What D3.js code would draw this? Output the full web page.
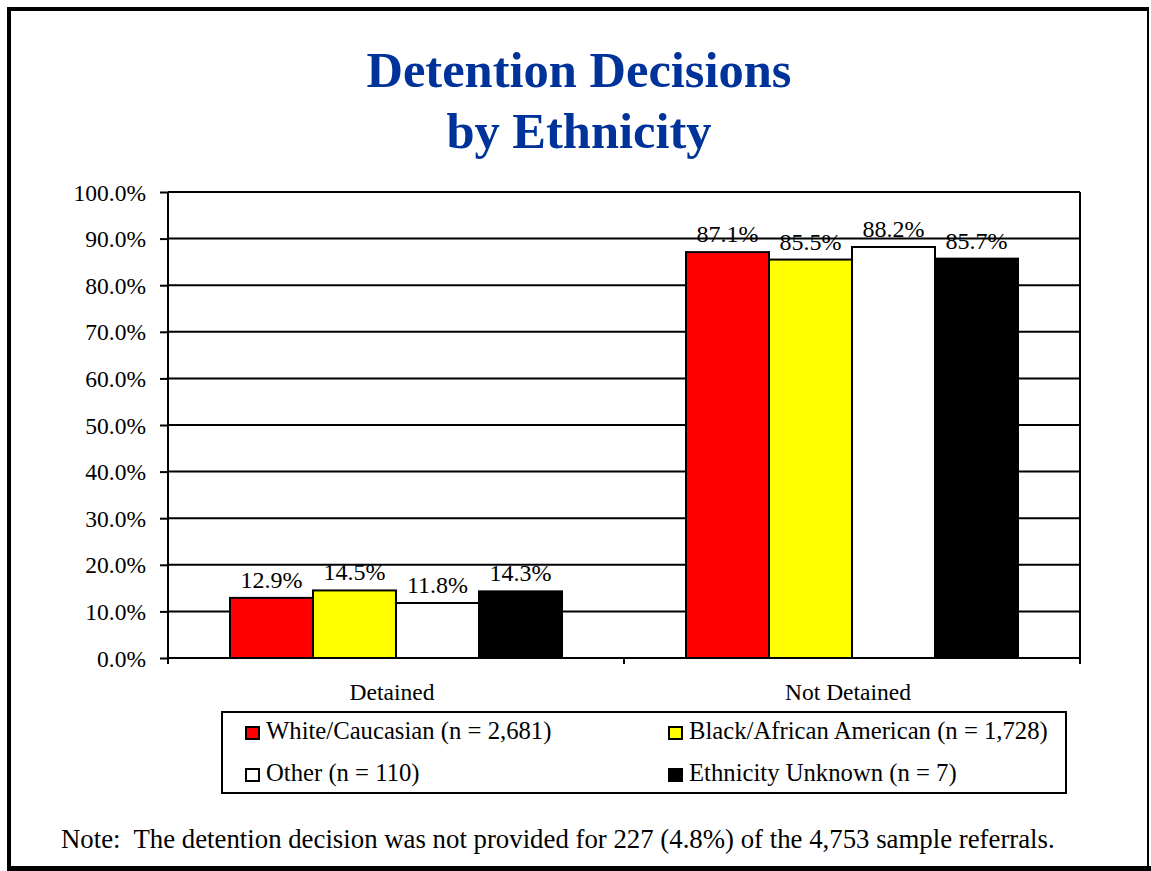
<!DOCTYPE html>
<html>
<head>
<meta charset="utf-8">
<script src="https://cdn.jsdelivr.net/npm/d3@7"></script>
<style>
  html, body { margin: 0; padding: 0; background: #fff; }
  svg { display: block; }
  text { font-family: "Liberation Serif", "Times New Roman", serif; fill: #000; white-space: pre; }
</style>
</head>
<body>
<script>
// ---- data ----
const categories = ["Detained", "Not Detained"];
const seriesNames = ["White/Caucasian (n = 2,681)", "Black/African American (n = 1,728)", "Other (n = 110)", "Ethnicity Unknown (n = 7)"];
const seriesColors = ["#ff0000", "#ffff00", "#ffffff", "#000000"];
const white = [12.9, 87.1];
const black = [14.5, 85.5];
const other = [11.8, 88.2];
const unknown = [14.3, 85.7];
const yTicks = [0, 10, 20, 30, 40, 50, 60, 70, 80, 90, 100];
const titleLines = ["Detention Decisions", "by Ethnicity"];
const noteText = "Note:  The detention decision was not provided for 227 (4.8%) of the 4,753 sample referrals.";

const seriesValues = [white, black, other, unknown];

const W = 1151, H = 871;
const svg = d3.select("body").append("svg").attr("width", W).attr("height", H);

// outer frame
svg.append("line").attr("x1", 9).attr("x2", 9).attr("y1", 7).attr("y2", 871).attr("stroke", "#000").attr("stroke-width", 4);
svg.append("line").attr("x1", 7).attr("x2", 1149).attr("y1", 9).attr("y2", 9).attr("stroke", "#000").attr("stroke-width", 4);
svg.append("line").attr("x1", 1148).attr("x2", 1148).attr("y1", 7).attr("y2", 871).attr("stroke", "#000").attr("stroke-width", 2);
svg.append("line").attr("x1", 7).attr("x2", 1151).attr("y1", 868.5).attr("y2", 868.5).attr("stroke", "#000").attr("stroke-width", 5);

// title
svg.append("g").selectAll("text").data(titleLines).join("text")
  .attr("x", 579).attr("y", (d, i) => 87 + i * 61)
  .attr("text-anchor", "middle")
  .style("font-size", "50.5px").style("font-weight", "bold").style("fill", "#003399")
  .text(d => d);

// scales
const plot = { left: 168, right: 1080, top: 192, bottom: 658 };
const y = d3.scaleLinear().domain([0, 100]).range([plot.bottom, plot.top]);
const x0 = d3.scaleBand().domain(categories).range([plot.left, plot.right]).paddingInner(0).paddingOuter(0);
const x1 = d3.scaleBand().domain(d3.range(seriesNames.length)).range([0, x0.bandwidth()]).paddingInner(0).paddingOuter(0.747);

// gridlines
svg.append("g").selectAll("line").data(yTicks).join("line")
  .attr("x1", plot.left).attr("x2", plot.right)
  .attr("y1", d => y(d)).attr("y2", d => y(d))
  .attr("stroke", "#000").attr("stroke-width", 2);

// right border of plot
svg.append("line").attr("x1", plot.right).attr("x2", plot.right).attr("y1", plot.top).attr("y2", plot.bottom)
  .attr("stroke", "#000").attr("stroke-width", 2);

// y axis
const yAxis = d3.axisLeft(y).tickValues(yTicks).tickFormat(d => d3.format(".1f")(d) + "%").tickSize(8).tickPadding(14);
const gy = svg.append("g").attr("transform", `translate(${plot.left},0)`).call(yAxis);
gy.select(".domain").attr("stroke", "#000").attr("stroke-width", 2).attr("d", `M0,${plot.top}V${plot.bottom + 6}`);
gy.selectAll(".tick line").attr("stroke", "#000").attr("stroke-width", 2);
gy.selectAll(".tick text").style("font-size", "23.5px").style("font-family", "'Liberation Serif', serif").attr("fill", "#000").attr("dy", "0.34em");

// x axis ticks at category boundaries
const boundaries = categories.map(c => x0(c)).concat([plot.right]);
svg.append("g").selectAll("line").data(boundaries).join("line")
  .attr("x1", d => d).attr("x2", d => d).attr("y1", plot.bottom).attr("y2", plot.bottom + 6)
  .attr("stroke", "#000").attr("stroke-width", 2);
svg.append("g").selectAll("text").data(categories).join("text")
  .attr("x", d => x0(d) + x0.bandwidth() / 2 - 4).attr("y", 700)
  .attr("text-anchor", "middle").style("font-size", "23.5px").text(d => d);

// bars
const barData = [];
categories.forEach((c, ci) => {
  seriesValues.forEach((vals, si) => barData.push({ c, si, v: vals[ci] }));
});
const bars = svg.append("g");
bars.selectAll("rect").data(barData).join("rect")
  .attr("x", d => x0(d.c) + x1(d.si))
  .attr("width", x1.bandwidth())
  .attr("y", d => y(d.v))
  .attr("height", d => y(0) - y(d.v))
  .attr("fill", d => seriesColors[d.si])
  .attr("stroke", "#000").attr("stroke-width", 2);

// value labels
svg.append("g").selectAll("text").data(barData).join("text")
  .attr("x", d => x0(d.c) + x1(d.si) + x1.bandwidth() / 2)
  .attr("y", d => y(d.v) - 10)
  .attr("text-anchor", "middle").style("font-size", "24px")
  .text(d => d3.format(".1f")(d.v) + "%");

// legend
const lg = svg.append("g");
lg.append("rect").attr("x", 222).attr("y", 712).attr("width", 844).attr("height", 81)
  .attr("fill", "#fff").attr("stroke", "#000").attr("stroke-width", 2);
const legPos = [[246, 739], [669, 739], [246, 781], [669, 781]];
const items = lg.selectAll("g.item").data(seriesNames).join("g").attr("class", "item")
  .attr("transform", (d, i) => `translate(${legPos[i][0]},${legPos[i][1]})`);
items.append("rect").attr("x", 0).attr("y", -12).attr("width", 13).attr("height", 12)
  .attr("fill", (d, i) => seriesColors[i]).attr("stroke", "#000").attr("stroke-width", 2);
items.append("text").attr("x", 20).attr("y", 0).style("font-size", "24.7px").text(d => d);

// note
svg.append("text").attr("x", 61).attr("y", 848).style("font-size", "26.8px").text(noteText);
</script>
</body>
</html>
